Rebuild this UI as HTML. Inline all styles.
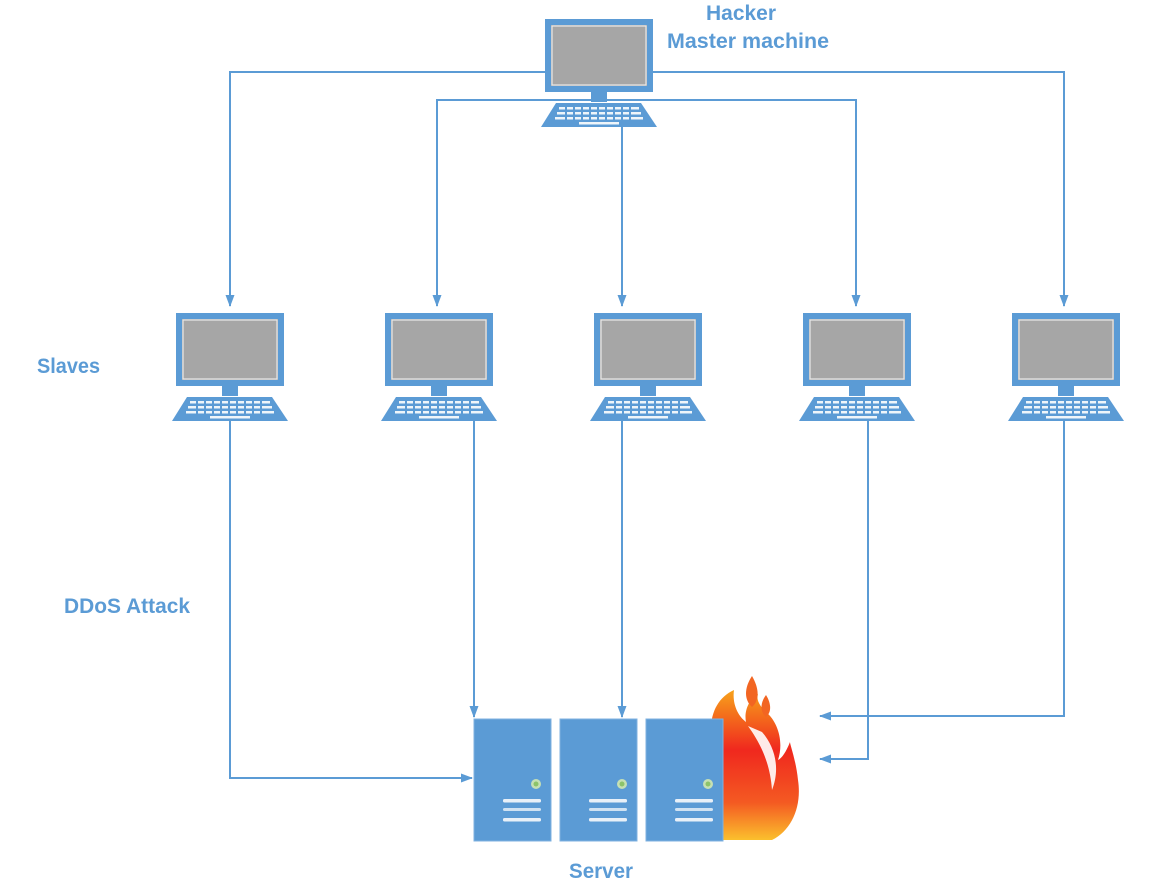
<!DOCTYPE html>
<html><head><meta charset="utf-8"><style>
html,body{margin:0;padding:0;background:#fff;}
svg{display:block}
text{font-family:"Liberation Sans",sans-serif;font-weight:bold;fill:#5b9bd5;font-size:21px}
</style></head><body>
<svg width="1168" height="890" viewBox="0 0 1168 890" xmlns="http://www.w3.org/2000/svg">
<defs>
<g id="pc">
  <rect x="3" y="3" width="102" height="67" fill="#a6a6a6" stroke="#5b9bd5" stroke-width="6"/>
  <rect x="7" y="7" width="94" height="59" fill="none" stroke="#e8e8e8" stroke-width="1.2"/>
  <rect x="46" y="73" width="16" height="10" fill="#5b9bd5"/>
  <polygon points="11,84 96,84 112,108 -4,108" fill="#5b9bd5"/>
  <g fill="#fff" opacity="0.9">
    <rect x="14" y="88" width="80" height="2.5"/>
    <rect x="12" y="93" width="84" height="2.5"/>
    <rect x="10" y="98" width="88" height="2.5"/>
    <rect x="34" y="103" width="40" height="2.5"/>
  </g>
  <g fill="#5b9bd5">
    <rect x="20" y="87" width="2" height="17"/><rect x="28" y="87" width="2" height="17"/>
    <rect x="36" y="87" width="2" height="15"/><rect x="44" y="87" width="2" height="15"/>
    <rect x="52" y="87" width="2" height="15"/><rect x="60" y="87" width="2" height="15"/>
    <rect x="68" y="87" width="2" height="15"/><rect x="76" y="87" width="2" height="17"/>
    <rect x="84" y="87" width="2" height="17"/>
  </g>
</g>
<g id="srv">
  <rect x="0" y="0" width="77" height="122" fill="#5b9bd5" stroke="#7fb2e0" stroke-width="1"/>
  <circle cx="62" cy="65" r="5" fill="#c6e0b4"/><circle cx="62" cy="65" r="2.5" fill="#8cc36a"/>
  <rect x="29" y="80" width="38" height="3.5" rx="1.5" fill="#e8f0f8"/>
  <rect x="29" y="89" width="38" height="3" rx="1.5" fill="#d0e2f2"/>
  <rect x="29" y="99" width="38" height="3.5" rx="1.5" fill="#e8f0f8"/>
</g>
<marker id="ar" markerWidth="12" markerHeight="12" refX="11" refY="6" orient="auto" markerUnits="userSpaceOnUse">
  <path d="M0,1.5 L12,6 L0,10.5 z" fill="#5b9bd5"/>
</marker>
<linearGradient id="fg" x1="0" y1="0" x2="0" y2="1">
  <stop offset="0" stop-color="#f7a21b"/><stop offset="0.4" stop-color="#f0281e"/>
  <stop offset="0.75" stop-color="#f45a22"/><stop offset="1" stop-color="#fbc02d"/>
</linearGradient>
</defs>

<g stroke="#5b9bd5" stroke-width="2" fill="none">
  <polyline points="545,72 230,72 230,306" marker-end="url(#ar)"/>
  <polyline points="652,72 1064,72 1064,306" marker-end="url(#ar)"/>
  <polyline points="595,100 437,100 437,306" marker-end="url(#ar)"/>
  <polyline points="603,100 856,100 856,306" marker-end="url(#ar)"/>
  <line x1="622" y1="126" x2="622" y2="306" marker-end="url(#ar)"/>
  <polyline points="230,421 230,778 472,778" marker-end="url(#ar)"/>
  <line x1="474" y1="421" x2="474" y2="717" marker-end="url(#ar)"/>
  <line x1="622" y1="421" x2="622" y2="717" marker-end="url(#ar)"/>
  <polyline points="868,421 868,759 820,759" marker-end="url(#ar)"/>
  <polyline points="1064,421 1064,716 820,716" marker-end="url(#ar)"/>
</g>

<use href="#pc" x="545" y="19"/>
<use href="#pc" x="176" y="313"/>
<use href="#pc" x="385" y="313"/>
<use href="#pc" x="594" y="313"/>
<use href="#pc" x="803" y="313"/>
<use href="#pc" x="1012" y="313"/>

<!-- fire -->
<path d="M734,690 C716,698 708,718 712,740 L716,840 L772,840 C792,830 802,806 798,780 C796,760 790,745 790,742 C786,752 782,758 778,760 C784,742 778,722 766,712 C760,706 756,700 758,694 C748,700 744,712 746,722 C738,716 732,704 734,690 Z" fill="url(#fg)"/>
<path d="M752,676 C744,688 744,700 752,707 C760,700 759,688 752,676 Z" fill="#f26522"/>
<path d="M766,695 C760,703 760,712 766,717 C772,712 771,703 766,695 Z" fill="#f26522"/>
<path d="M748,726 C758,740 770,760 772,790 C780,770 776,748 762,732 Z" fill="#fff" opacity="0.9"/>

<use href="#srv" x="474" y="719"/>
<use href="#srv" x="560" y="719"/>
<use href="#srv" x="646" y="719"/>

<text x="741" y="20" text-anchor="middle" textLength="70" lengthAdjust="spacingAndGlyphs">Hacker</text>
<text x="748" y="48" text-anchor="middle" textLength="162" lengthAdjust="spacingAndGlyphs">Master machine</text>
<text x="37" y="373" textLength="63" lengthAdjust="spacingAndGlyphs">Slaves</text>
<text x="64" y="613" textLength="126" lengthAdjust="spacingAndGlyphs">DDoS Attack</text>
<text x="601" y="878" text-anchor="middle" textLength="64" lengthAdjust="spacingAndGlyphs">Server</text>
</svg>
</body></html>
